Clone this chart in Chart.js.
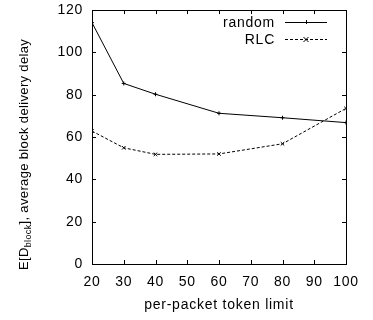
<!DOCTYPE html>
<html>
<head>
<meta charset="utf-8">
<script src="https://cdn.jsdelivr.net/npm/chart.js@4.4.0/dist/chart.umd.min.js"></script>
<style>
  html, body { margin: 0; padding: 0; background: #fff; }
  #wrap { width: 373px; height: 320px; }
</style>
</head>
<body>
<div id="wrap"><canvas id="chart" width="373" height="320"></canvas></div>
<script>
// data
const tokenLimits = [20, 30, 40, 60, 80, 100];
const randomDelay = [114, 85.3, 80.2, 71.2, 69.1, 66.8];
const rlcDelay = [62.8, 54.9, 51.8, 52, 56.8, 73.5];
const seriesNames = ['random', 'RLC'];

const FONT = '"Liberation Sans", Arial, sans-serif';
const SPACING = '0.75px'; // the original font runs a bit wider than Arial

// gnuplot-ish frame: box, inward ticks on all sides, legend, y title
const framePlugin = {
    id: 'frame',
    beforeUpdate(chart) { chart.ctx.letterSpacing = SPACING; },
    beforeDraw(chart) { chart.ctx.letterSpacing = SPACING; },
    afterDraw(chart) {
        const ctx = chart.ctx;
        const a = chart.chartArea;
        const xs = chart.scales.x;
        const ys = chart.scales.y;
        ctx.save();
        ctx.strokeStyle = '#000';
        ctx.lineWidth = 1;
        ctx.setLineDash([]);
        ctx.strokeRect(Math.round(a.left) + 0.5, Math.round(a.top) + 0.5,
            Math.round(a.right - a.left), Math.round(a.bottom - a.top));

        const tl = 4;
        ctx.beginPath();
        xs.ticks.forEach(t => {
            const px = Math.round(xs.getPixelForValue(t.value)) + 0.5;
            ctx.moveTo(px, a.bottom); ctx.lineTo(px, a.bottom - tl);
            ctx.moveTo(px, a.top); ctx.lineTo(px, a.top + tl);
        });
        ys.ticks.forEach(t => {
            const py = Math.round(ys.getPixelForValue(t.value)) + 0.5;
            ctx.moveTo(a.left, py); ctx.lineTo(a.left + tl, py);
            ctx.moveTo(a.right, py); ctx.lineTo(a.right - tl, py);
        });
        ctx.stroke();

        // legend (text then sample line)
        ctx.font = '14px ' + FONT;
        ctx.fillStyle = '#000';
        ctx.textAlign = 'right';
        ctx.textBaseline = 'alphabetic';
        chart.data.datasets.forEach((ds, i) => {
            const y = 22 + i * 17;
            ctx.fillText(seriesNames[i], 275, y + 5);
            ctx.setLineDash(ds.borderDash || []);
            ctx.beginPath();
            ctx.moveTo(285, y + 0.5); ctx.lineTo(327, y + 0.5);
            ctx.stroke();
            ctx.setLineDash([]);
            const cx = 306, r = ds.pointRadius;
            ctx.beginPath();
            if (ds.pointStyle === 'crossRot') {
                ctx.moveTo(cx - r, y + 0.5 - r); ctx.lineTo(cx + r, y + 0.5 + r);
                ctx.moveTo(cx - r, y + 0.5 + r); ctx.lineTo(cx + r, y + 0.5 - r);
            } else {
                ctx.moveTo(cx - r, y + 0.5); ctx.lineTo(cx + r, y + 0.5);
                ctx.moveTo(cx + 0.5, y - r); ctx.lineTo(cx + 0.5, y + r);
            }
            ctx.stroke();
        });

        // y title with subscript, rotated
        ctx.letterSpacing = '0.35px';
        ctx.translate(28, 270);
        ctx.rotate(-Math.PI / 2);
        ctx.textAlign = 'left';
        ctx.textBaseline = 'alphabetic';
        let x = 0;
        ctx.font = '13px ' + FONT;
        ctx.fillText('E[D', x, 0);
        x += ctx.measureText('E[D').width;
        ctx.font = '9px ' + FONT;
        ctx.fillText('block', x, 3);
        x += ctx.measureText('block').width;
        ctx.font = '13px ' + FONT;
        ctx.fillText('], average block delivery delay', x, 0);
        ctx.restore();
    }
};

new Chart(document.getElementById('chart'), {
    type: 'line',
    data: {
        datasets: [
            {
                label: seriesNames[0],
                data: tokenLimits.map((t, i) => ({ x: t, y: randomDelay[i] })),
                borderColor: '#000',
                backgroundColor: '#000',
                borderWidth: 1,
                pointStyle: 'cross',
                pointRadius: 2,
                pointBorderWidth: 1,
                tension: 0
            },
            {
                label: seriesNames[1],
                data: tokenLimits.map((t, i) => ({ x: t, y: rlcDelay[i] })),
                borderColor: '#000',
                backgroundColor: '#000',
                borderWidth: 1,
                borderDash: [3, 2],
                pointStyle: 'crossRot',
                pointRadius: 2.5,
                pointBorderWidth: 1,
                tension: 0
            }
        ]
    },
    options: {
        responsive: false,
        animation: false,
        layout: { padding: { top: 10, right: 27, left: 0, bottom: 0 } },
        plugins: {
            legend: { display: false },
            tooltip: { enabled: false }
        },
        scales: {
            x: {
                type: 'linear',
                min: 20,
                max: 100,
                grid: { display: false, drawTicks: false },
                border: { display: false },
                ticks: { stepSize: 10, color: '#000', padding: 10, font: { family: FONT, size: 14 } },
                title: { display: true, text: 'per-packet token limit', color: '#000', padding: { top: 0, bottom: 6 }, font: { family: FONT, size: 14 } },
                afterFit(scale) { scale.height = 56; }
            },
            y: {
                min: 0,
                max: 120,
                grid: { display: false, drawTicks: false },
                border: { display: false },
                ticks: { stepSize: 20, color: '#000', padding: 9, font: { family: FONT, size: 14 } },
                afterFit(scale) {
                    scale.width = 92;
                    scale.paddingTop = 0;
                    scale.paddingBottom = 0;
                }
            }
        }
    },
    plugins: [framePlugin]
});
</script>
</body>
</html>
